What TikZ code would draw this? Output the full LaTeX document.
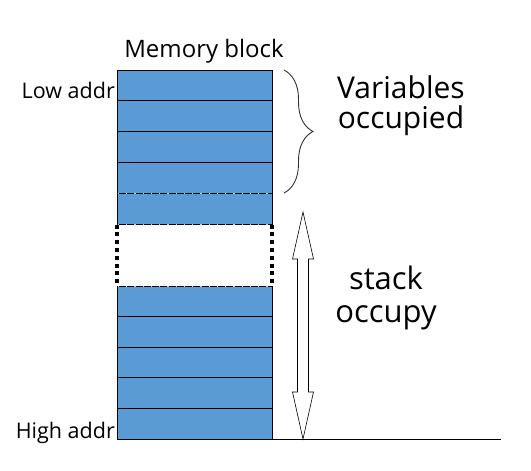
\documentclass[tikz,border=0pt]{standalone}
\usepackage{fontspec}
\setmainfont{Open Sans}
\usetikzlibrary{positioning,decorations.pathreplacing}
\definecolor{cellblue}{RGB}{91,155,213}

\begin{document}
\begin{tikzpicture}[x=1pt,y=-1pt,
    cell/.style={draw=black, fill=cellblue, line width=0.8pt},
    breakline/.style={cellblue!45, line width=0.8pt, dash pattern=on 1.5pt off 7pt on 1pt off 7pt},
    gapdots/.style={line width=4pt, dash pattern=on 4pt off 3.8pt},
    addrtext/.style={font=\fontsize{21.5}{24}\selectfont, inner sep=0pt},
    bigtext/.style={align=center, inner sep=0pt}]
    \useasboundingbox (0,0) rectangle (531,471);

    % Define coordinates
    \coordinate (TL) at (117,70);
    \coordinate (BR) at (272,439);
    \coordinate (Atop) at (303,212);
    \coordinate (Abot) at (303,439);

    % Upper cells
    \foreach \i in {0,...,4}
        \draw[cell] (117,{70+30.8*\i}) rectangle (272,{70+30.8*(\i+1)});
    % Lower cells
    \foreach \i in {0,...,4}
        \draw[cell] (117,{286+30.6*\i}) rectangle (272,{286+30.6*(\i+1)});

    % Broken lines
    \foreach \y in {193.2,224,286}
        \draw[breakline] (117.5,\y) -- (271.5,\y);

    % Gap
    \draw[gapdots] (117,224.5) -- (117,286);
    \draw[gapdots] (272,224.5) -- (272,286);

    % Baseline
    \draw[line width=0.8pt] (BR) -- (501,439);

    % Brace
    \draw[decorate, decoration={brace, amplitude=29pt}, line width=0.9pt, black!80]
        (284,70) -- (284,193);

    % Double arrow
    \draw[fill=white, line width=0.6pt] (Atop) -- ++(10.5,47) -- ++(-5,0) -- (308.5,392)
        -- ++(5,0) -- (Abot) -- ++(-10.5,-47) -- ++(5,0) -- (297.5,259) -- ++(-5,0) -- cycle;

    % Labels
    \node[addrtext, anchor=base, font=\fontsize{24}{28}\selectfont] (title) at (204,57) {Memory block};
    \node[addrtext, anchor=base east] (low) at (115,98) {Low addr};
    \node[addrtext, anchor=base east] (high) at (115,438) {High addr};
    \node[bigtext, anchor=base, font=\fontsize{30}{30}\selectfont] (vars) at (401,128) {Variables\\occupied};
    \node[bigtext, anchor=base, font=\fontsize{31}{33}\selectfont] (stack) at (386,322) {stack\\occupy};
\end{tikzpicture}
\end{document}
